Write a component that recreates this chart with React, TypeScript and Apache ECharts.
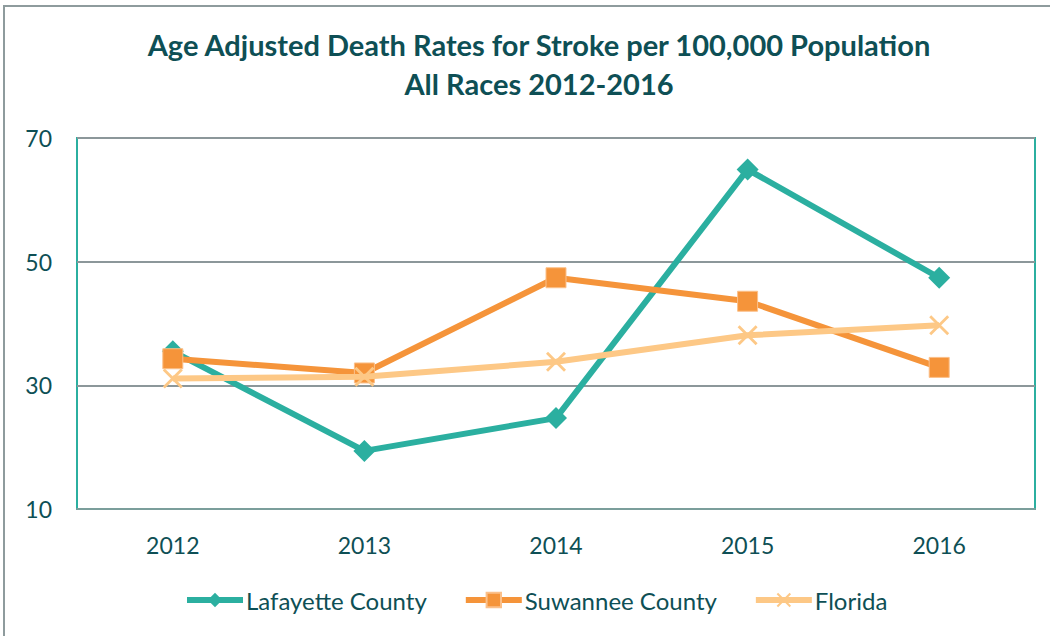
import React, { useEffect, useRef } from "react";
import * as echarts from "echarts";

const years = ["2012", "2013", "2014", "2015", "2016"];
const lafayette = [35.5, 19.4, 24.7, 64.9, 47.4];
const suwannee = [34.3, 32.0, 47.4, 43.6, 32.9];
const florida = [31.1, 31.4, 33.8, 38.1, 39.7];
const yTicks = { min: 10, max: 70, interval: 20 };

const FONT = "Lato";
const TEXT = "#0E4F55";
const TEAL = "#2BAFA0";
const ORANGE = "#F5943A";
const LIGHT = "#FDC886";
const XPATH = "path://M0,1 L1,0 L10,9 L9,10 Z M9,0 L10,1 L1,10 L0,9 Z";

export default function App() {
  const ref = useRef<HTMLDivElement>(null);
  useEffect(() => {
    const chart = echarts.init(ref.current!, null, { renderer: "svg" });
    chart.setOption({
      animation: false,
      backgroundColor: "#fff",
      title: {
        text: "Age Adjusted Death Rates for Stroke per 100,000 Population\nAll Races 2012-2016",
        left: 534,
        top: 20,
        textAlign: "center",
        textStyle: {
          fontFamily: FONT,
          fontWeight: "bold",
          fontSize: 29,
          lineHeight: 39,
          color: TEXT,
        },
      },
      graphic: [
        {
          type: "rect",
          shape: { x: 4, y: 6, width: 1200, height: 800 },
          style: { fill: "none", stroke: "#8E9B9D", lineWidth: 2 },
          silent: true,
        },
      ],
      legend: {
        bottom: 19,
        left: 179,
        itemWidth: 56,
        itemHeight: 18,
        itemGap: 36,
        lineStyle: { width: 6 },
        textStyle: { fontFamily: FONT, fontSize: 24, color: TEXT, padding: [0, 0, 0, -2] },
        data: ["Lafayette County", "Suwannee County", "Florida"],
      },
      grid: {
        left: 77,
        top: 138,
        right: 15,
        bottom: 127,
        show: true,
        borderColor: TEAL,
        borderWidth: 2,
        backgroundColor: "transparent",
      },
      xAxis: {
        type: "category",
        data: years,
        boundaryGap: true,
        axisLine: { lineStyle: { color: "#7B9E9B", width: 2 } },
        axisTick: { show: false },
        axisLabel: { fontFamily: FONT, fontSize: 23, color: TEXT, margin: 24 },
      },
      yAxis: {
        type: "value",
        min: yTicks.min,
        max: yTicks.max,
        interval: yTicks.interval,
        axisLine: { show: false },
        axisTick: { show: false },
        splitLine: { lineStyle: { color: "#8C979A", width: 2 } },
        axisLabel: { fontFamily: FONT, fontSize: 23, color: TEXT, margin: 25 },
      },
      series: [
        {
          name: "Lafayette County",
          type: "line",
          data: lafayette,
          symbol: "diamond",
          symbolSize: 22,
          lineStyle: { color: TEAL, width: 6 },
          itemStyle: { color: TEAL },
          z: 3,
        },
        {
          name: "Suwannee County",
          type: "line",
          data: suwannee,
          symbol: "rect",
          symbolSize: 20,
          lineStyle: { color: ORANGE, width: 6 },
          itemStyle: { color: ORANGE, borderColor: "#FBC08A", borderWidth: 1 },
          z: 4,
        },
        {
          name: "Florida",
          type: "line",
          data: florida,
          symbol: XPATH,
          symbolSize: 20,
          lineStyle: { color: LIGHT, width: 6 },
          itemStyle: { color: LIGHT },
          z: 5,
        },
      ],
    });
    return () => chart.dispose();
  }, []);
  return <div ref={ref} style={{ width: 1050, height: 636, position: "absolute", left: 0, top: 0 }} />;
}
